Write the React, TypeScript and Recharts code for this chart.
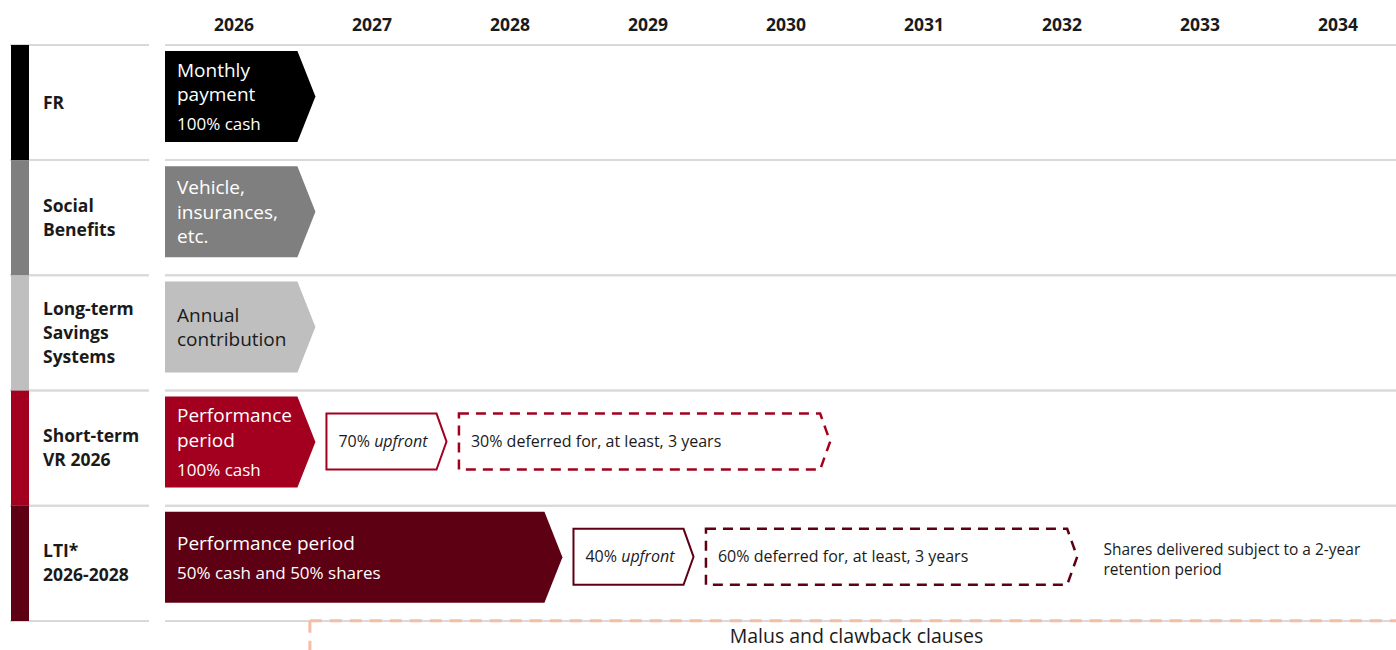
import React from "react";
import { ComposedChart, Bar, XAxis, YAxis } from "recharts";

// rows of the remuneration timeline
const rows = ["FR", "Social Benefits", "Long-term Savings Systems", "Short-term VR 2026", "LTI* 2026-2028"];
const rowLines = [["FR"], ["Social", "Benefits"], ["Long-term", "Savings", "Systems"], ["Short-term", "VR 2026"], ["LTI*", "2026-2028"]];
const rowColors = ["#000000", "#7f7f7f", "#bfbfbf", "#a3001f", "#5e0013"];
const years = [2026, 2027, 2028, 2029, 2030, 2031, 2032, 2033, 2034];

// main block (payment / performance period), in years
const mainStart = [2026, 2026, 2026, 2026, 2026];
const mainEnd = [2027.09, 2027.09, 2027.09, 2027.09, 2028.88];
const mainTitle = [["Monthly", "payment"], ["Vehicle,", "insurances,", "etc."], ["Annual", "contribution"], ["Performance", "period"], ["Performance period"]];
const mainNote = ["100% cash", "", "", "100% cash", "50% cash and 50% shares"];

// upfront payment
const upfrontStart = [null, null, null, 2027.17, 2028.96];
const upfrontEnd = [null, null, null, 2028.04, 2029.83];
const upfrontShare = ["", "", "", "70%", "40%"];

// deferred payment
const deferredStart = [null, null, null, 2028.13, 2029.92];
const deferredEnd = [null, null, null, 2030.82, 2032.61];
const deferredText = ["", "", "", "30% deferred for, at least, 3 years", "60% deferred for, at least, 3 years"];

// retention note
const retentionStart = [null, null, null, null, 2032.8];
const retentionEnd = [null, null, null, null, 2035];
const retentionText = [[], [], [], [], ["Shares delivered subject to a 2-year", "retention period"]];

// malus and clawback bracket
const malusStart = [null, null, null, null, 2027.05];
const malusEnd = [null, null, null, null, 2035];
const malusText = "Malus and clawback clauses";

const W = 1407;
const H = 650;
const TOP = 45;
const BOTTOM = 29;
const LEFT = 165;
const BAND = (H - TOP - BOTTOM) / rows.length;
const LIFT = 6;
const FONT = "'Open Sans', 'Noto Sans', sans-serif";
const GRID = "#d9d9d9";

const range = (a: number | null, b: number | null) => (a == null || b == null ? null : [a, b]);

const data = rows.map((row, i) => ({
    row,
    idx: i,
    main: range(mainStart[i], mainEnd[i]),
    upfront: range(upfrontStart[i], upfrontEnd[i]),
    deferred: range(deferredStart[i], deferredEnd[i]),
    retention: range(retentionStart[i], retentionEnd[i]),
    malus: range(malusStart[i], malusEnd[i]),
}));

const YearTick = (props: any) => {
    const { x, payload } = props;
    return (
        <text x={x} y={31} textAnchor="middle" fontFamily={FONT} fontWeight={700} fontSize={17.5} fill="#1a1a1a">
            {Math.floor(payload.value)}
        </text>
    );
};

const RowTick = (props: any) => {
    const { y, index } = props;
    const lines = rowLines[index];
    const top = y - BAND / 2;
    const first = y - ((lines.length - 1) * 24) / 2 + 6;
    return (
        <g>
            <rect x={11} y={top} width={18} height={BAND} fill={rowColors[index]} />
            <text fontFamily={FONT} fontWeight={700} fontSize={17.5} fill="#1a1a1a">
                {lines.map((l, k) => (
                    <tspan key={k} x={43} y={first + k * 24}>
                        {l}
                    </tspan>
                ))}
            </text>
        </g>
    );
};

// row separators, drawn behind the bars from each band's background
const RowGrid = (p: any) => {
    const { y, height } = p;
    const c = y + height / 2;
    const top = c - BAND / 2;
    const bottom = c + BAND / 2;
    return (
        <g>
            {[top, bottom].map((ly, k) => (
                <g key={k}>
                    <line x1={10} x2={149} y1={ly} y2={ly} stroke={GRID} strokeWidth={2} />
                    <line x1={LEFT} x2={W} y1={ly} y2={ly} stroke={GRID} strokeWidth={2} />
                </g>
            ))}
        </g>
    );
};

const MainShape = (p: any) => {
    const { x, y, width, height, payload } = p;
    if (!payload || !payload.main) return <g />;
    const i = payload.idx;
    const top = y - LIFT;
    const tip = x + width;
    const body = tip - 18;
    const mid = top + height / 2;
    const pts = `${x},${top} ${body},${top} ${tip},${mid} ${body},${top + height} ${x},${top + height}`;
    const txt = i === 2 ? "#1a1a1a" : "#ffffff";
    const title = mainTitle[i];
    const note = mainNote[i];
    const step = 24.5;
    const gap = 29;
    let first: number;
    if (note) {
        const span = (title.length - 1) * step + gap + 14;
        first = top + (height - span) / 2 + 14;
    } else {
        first = mid - ((title.length - 1) * step) / 2 + 7;
    }
    return (
        <g>
            <polygon points={pts} fill={rowColors[i]} />
            <text fontFamily={FONT} fontSize={19} fill={txt}>
                {title.map((l, k) => (
                    <tspan key={k} x={x + 12} y={first + k * step}>
                        {l}
                    </tspan>
                ))}
            </text>
            {note && (
                <text x={x + 12} y={first + (title.length - 1) * step + gap} fontFamily={FONT} fontSize={17} fill={txt}>
                    {note}
                </text>
            )}
        </g>
    );
};

const UpfrontShape = (p: any) => {
    const { x, y, width, height, payload } = p;
    if (!payload || !payload.upfront) return <g />;
    const i = payload.idx;
    const top = y - LIFT - 1;
    const tip = x + width;
    const body = tip - 10;
    const mid = top + height / 2;
    const pts = `${x},${top} ${body},${top} ${tip},${mid} ${body},${top + height} ${x},${top + height}`;
    return (
        <g>
            <polygon points={pts} fill="#fff" stroke={rowColors[i]} strokeWidth={2} />
            <text x={x + 12} y={mid + 5.5} fontFamily={FONT} fontSize={16} fill="#1a1a1a">
                <tspan>{upfrontShare[i]} </tspan>
                <tspan fontStyle="italic">upfront</tspan>
            </text>
        </g>
    );
};

const DeferredShape = (p: any) => {
    const { x, y, width, height, payload } = p;
    if (!payload || !payload.deferred) return <g />;
    const i = payload.idx;
    const top = y - LIFT - 1;
    const tip = x + width;
    const body = tip - 10;
    const mid = top + height / 2;
    const pts = `${x},${top} ${body},${top} ${tip},${mid} ${body},${top + height} ${x},${top + height}`;
    return (
        <g>
            <polygon points={pts} fill="none" stroke={rowColors[i]} strokeWidth={2.5} strokeDasharray="10 7" />
            <text x={x + 12} y={mid + 5.5} fontFamily={FONT} fontSize={16} fill="#1a1a1a">
                {deferredText[i]}
            </text>
        </g>
    );
};

const RetentionShape = (p: any) => {
    const { x, y, height, payload } = p;
    if (!payload || !payload.retention) return <g />;
    const i = payload.idx;
    const mid = y - LIFT + height / 2;
    return (
        <text fontFamily={FONT} fontSize={15.5} fill="#1a1a1a">
            {retentionText[i].map((l, k) => (
                <tspan key={k} x={x} y={mid - 3 + k * 20.5}>
                    {l}
                </tspan>
            ))}
        </text>
    );
};

const MalusShape = (p: any) => {
    const { x, y, width, height, payload } = p;
    if (!payload || !payload.malus) return <g />;
    const base = y + height;
    const stroke = "#f7bca4";
    return (
        <g>
            <line x1={x} x2={x + width} y1={base} y2={base} stroke={stroke} strokeWidth={3} strokeDasharray="12 8" />
            <line x1={x} x2={x} y1={base} y2={base + 40} stroke={stroke} strokeWidth={3} strokeDasharray="12 8" />
            <text x={x + width / 2 - 2} y={base + 22} textAnchor="middle" fontFamily={FONT} fontSize={19.5} fill="#1a1a1a">
                {malusText}
            </text>
        </g>
    );
};

const RemunerationTimeline = () => {
    return (
        <div style={{ position: "absolute", left: 0, top: 0, width: 1396, height: H, overflow: "hidden", background: "#fff" }}>
            <ComposedChart
                width={W}
                height={H}
                data={data}
                layout="vertical"
                margin={{ top: 0, right: 0, bottom: BOTTOM, left: 0 }}
            >
                <XAxis
                    type="number"
                    orientation="top"
                    domain={[2026, 2035]}
                    ticks={years.map((yr) => yr + 0.5)}
                    tick={<YearTick />}
                    axisLine={false}
                    tickLine={false}
                    height={TOP}
                />
                <YAxis yAxisId="main" type="category" dataKey="row" width={LEFT} tick={<RowTick />} axisLine={false} tickLine={false} interval={0} />
                <YAxis yAxisId="up" type="category" dataKey="row" hide />
                <YAxis yAxisId="def" type="category" dataKey="row" hide />
                <YAxis yAxisId="ret" type="category" dataKey="row" hide />
                <YAxis yAxisId="malus" type="category" dataKey="row" hide />
                <Bar yAxisId="main" dataKey="main" barSize={91} background={<RowGrid />} shape={<MainShape />} isAnimationActive={false} />
                <Bar yAxisId="up" dataKey="upfront" barSize={56} shape={<UpfrontShape />} isAnimationActive={false} />
                <Bar yAxisId="def" dataKey="deferred" barSize={56} shape={<DeferredShape />} isAnimationActive={false} />
                <Bar yAxisId="ret" dataKey="retention" barSize={56} shape={<RetentionShape />} isAnimationActive={false} />
                <Bar yAxisId="malus" dataKey="malus" barSize={Math.floor(BAND)} shape={<MalusShape />} isAnimationActive={false} />
            </ComposedChart>
        </div>
    );
};

export default function App() {
    return <RemunerationTimeline />;
}
